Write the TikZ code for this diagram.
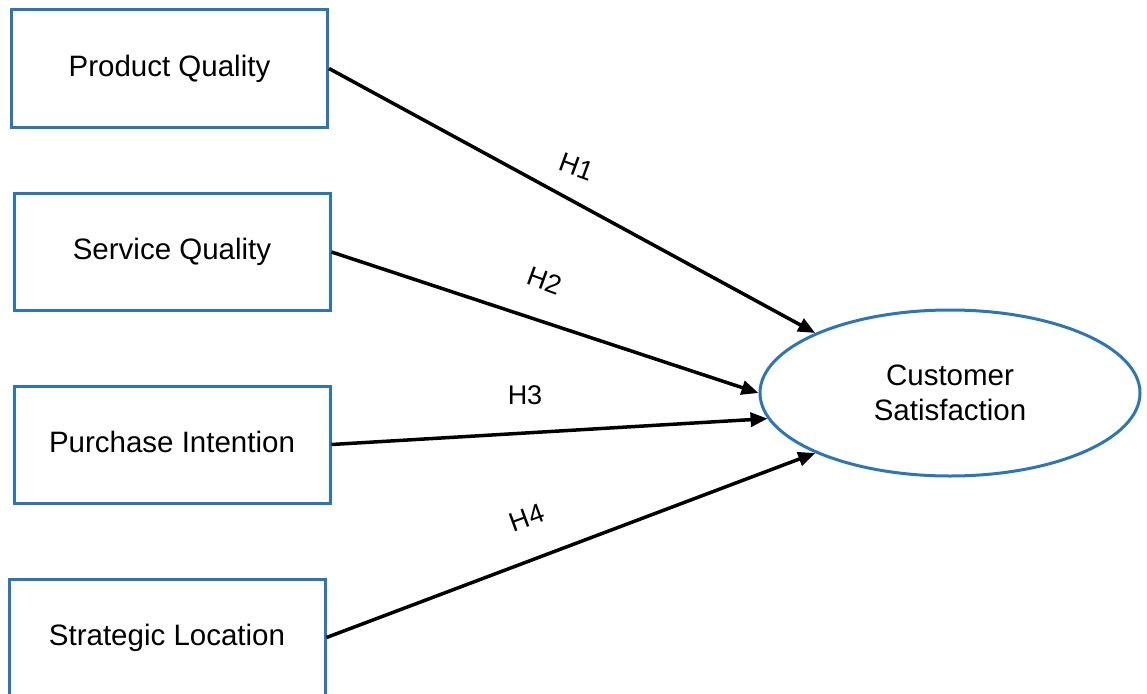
\documentclass[tikz,border=0pt]{standalone}
\usepackage{fontspec}
\setmainfont{Liberation Sans}
\usetikzlibrary{shapes.geometric,arrows.meta}
\definecolor{boxblue}{RGB}{46,117,182}
\begin{document}
\begin{tikzpicture}[x=1pt,y=-1pt,
  varbox/.style={draw=boxblue,line width=3pt,minimum width=316pt,minimum height=117pt,inner sep=0pt,text height=21pt,text depth=6pt,font=\fontsize{29.5}{35}\selectfont},
  outcome/.style={draw=boxblue,line width=3pt,ellipse,minimum width=380pt,minimum height=166pt,inner sep=0pt,align=center,font=\fontsize{29.5}{35}\selectfont},
  conn/.style={line width=3.5pt,-{Triangle[length=17pt,width=14pt]}},
  hlabel/.style={font=\fontsize{27}{32}\selectfont,inner sep=0pt}]
\useasboundingbox (0,0) rectangle (1147,693);
\node[varbox] (pq) at (169.5,68.5) {Product Quality};
\node[varbox] (sq) at (172,252) {Service Quality};
\node[varbox] (pi) at (172,444.5) {Purchase Intention};
\node[varbox] (sl) at (167,637.5) {Strategic Location};
\node[outcome] (cs) at (950,393) {Customer\\Satisfaction};
\draw[conn] (pq.east) -- (cs.156);
\draw[conn] (sq.east) -- (cs.180);
\draw[conn] (pi.east) -- (cs.188);
\draw[conn] (sl.east) -- (cs.204);
\node[hlabel,rotate=-20] (h1) at (577,167) {H1};
\node[hlabel,rotate=-20] (h2) at (545,281) {H2};
\node[hlabel] (h3) at (525,395) {H3};
\node[hlabel,rotate=20] (h4) at (527,518) {H4};
\end{tikzpicture}
\end{document}
